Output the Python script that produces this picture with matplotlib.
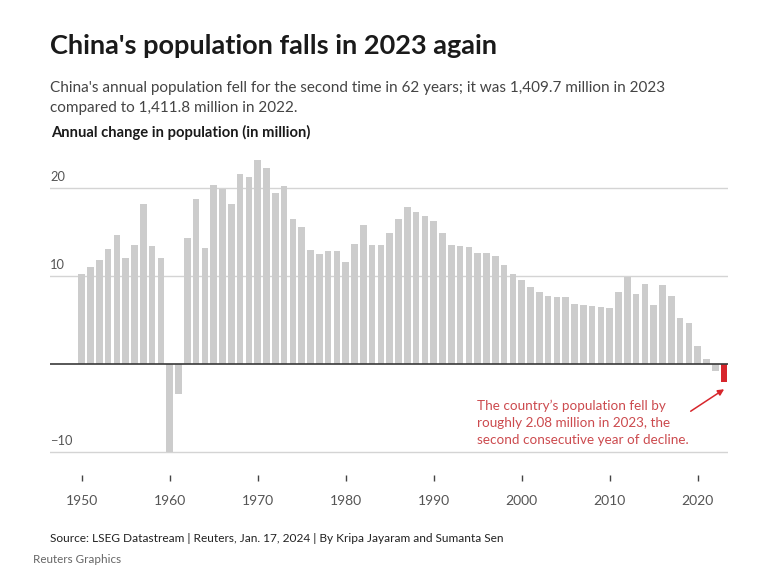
import matplotlib
matplotlib.use("Agg")
import matplotlib.pyplot as plt
from matplotlib.transforms import blended_transform_factory

plt.rcParams['font.family'] = ['Lato', 'DejaVu Sans']

years = list(range(1950, 2024))
change = [10.19, 10.95, 11.74, 13.07, 14.62, 11.97, 13.52, 18.14, 13.33, 12.05,
          -10.00, -3.48, 14.32, 18.67, 13.18, 20.34, 19.89, 18.14, 21.55, 21.25,
          23.14, 22.27, 19.39, 20.23, 16.40, 15.53, 12.88, 12.50, 12.80, 12.80,
          11.59, 13.60, 15.76, 13.48, 13.45, 14.89, 16.48, 17.84, 17.20, 16.74,
          16.25, 14.81, 13.45, 13.33, 13.22, 12.61, 12.58, 12.27, 11.25, 10.19,
          9.47, 8.72, 8.19, 7.66, 7.55, 7.62, 6.79, 6.72, 6.60, 6.42,
          6.34, 8.15, 9.89, 7.96, 9.09, 6.72, 8.98, 7.70, 5.21, 4.57,
          1.96, 0.48, -0.85, -2.08]
highlight_year = 2023
y_ticks = [20, 10, -10]
y_tick_labels = ["20", "10", "\u221210"]
x_ticks = [1950, 1960, 1970, 1980, 1990, 2000, 2010, 2020]

W, H = 764, 572
fig = plt.figure(figsize=(W / 100, H / 100), dpi=100)

def fx(px):
    return px / W

def fy(py):
    return 1 - py / H

ax = fig.add_axes([fx(50), fy(481), fx(728) - fx(50), fy(155) - fy(481)])
ax.set_xlim(1946.4, 2023.44)
ax.set_ylim(-13.33, 23.72)

colors = ['#d7262c' if y == highlight_year else '#cccccc' for y in years]
ax.bar(years, change, width=0.76, color=colors, zorder=2, linewidth=0)

for v in y_ticks:
    ax.axhline(v, color='#d4d4d4', lw=1.0, zorder=1)
ax.axhline(0, color='#3a3a3a', lw=1.2, zorder=3)

trans = blended_transform_factory(ax.transAxes, ax.transData)
for v, lab in zip(y_ticks, y_tick_labels):
    ax.text(0.0, v + 0.55, lab, transform=trans, ha='left', va='bottom',
            fontsize=9.3, color='#555555')

for s in ax.spines.values():
    s.set_visible(False)
ax.set_yticks([])
ax.set_xticks(x_ticks)
ax.set_xticklabels([str(x) for x in x_ticks])
ax.tick_params(axis='x', direction='in', length=4, width=1, color='#444444',
               pad=10, labelsize=10, labelcolor='#555555')

# Annotation
ax.annotate("", xy=(2023.0, -2.9), xytext=(2019.2, -5.4),
            arrowprops=dict(arrowstyle='-|>', color='#d7262c', lw=1.1,
                            mutation_scale=9, shrinkA=0, shrinkB=0))
ann_lines = ["The country\u2019s population fell by",
             "roughly 2.08 million in 2023, the",
             "second consecutive year of decline."]
for i, line in enumerate(ann_lines):
    fig.text(fx(477), fy(410 + 17 * i), line,
             fontsize=9.75, color='#cc4a4e', va='baseline', ha='left')

# Titles
fig.text(fx(50), fy(54.5), "China's population falls in 2023 again",
         fontsize=19.5, fontweight='bold', color='#1a1a1a', va='baseline', ha='left')
fig.text(fx(50), fy(91.7),
         "China's annual population fell for the second time in 62 years; it was 1,409.7 million in 2023",
         fontsize=10.95, color='#444444', va='baseline', ha='left')
fig.text(fx(50), fy(111.7), "compared to 1,411.8 million in 2022.",
         fontsize=10.95, color='#444444', va='baseline', ha='left')
fig.text(fx(51), fy(137.3), "Annual change in population (in million)",
         fontsize=10.6, fontweight='bold', color='#1a1a1a', va='baseline', ha='left')

fig.text(fx(50), fy(541.7),
         "Source: LSEG Datastream | Reuters, Jan. 17, 2024 | By Kripa Jayaram and Sumanta Sen",
         fontsize=8.6, color='#222222', va='baseline', ha='left')
fig.text(fx(33), fy(562.7), "Reuters Graphics",
         fontsize=8.35, color='#666666', va='baseline', ha='left')

fig.savefig("out.png", dpi=100, facecolor='white')
